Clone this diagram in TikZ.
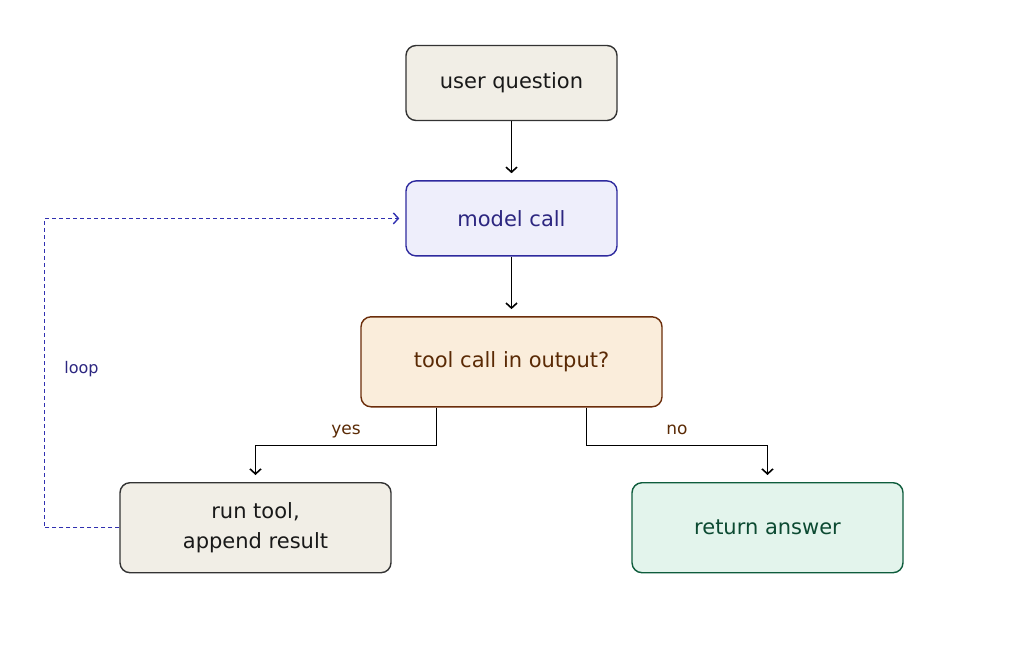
\documentclass[tikz,border=0pt]{standalone}
\usepackage{fontspec}
\setmainfont{DejaVu Sans}
\usetikzlibrary{arrows.meta, positioning}

\definecolor{inkgray}{HTML}{333333}
\definecolor{sandfill}{HTML}{F1EEE6}
\definecolor{indigoline}{HTML}{2E2A9E}
\definecolor{indigofill}{HTML}{EEEEFB}
\definecolor{indigotext}{HTML}{2C2680}
\definecolor{brownline}{HTML}{6B2D0A}
\definecolor{brownfill}{HTML}{FAEDDB}
\definecolor{browntext}{HTML}{5A2A05}
\definecolor{greenline}{HTML}{0E5C3C}
\definecolor{greenfill}{HTML}{E3F4EC}
\definecolor{greentext}{HTML}{0C4A32}
\definecolor{loopblue}{HTML}{3030B0}

\begin{document}
\begin{tikzpicture}[node distance=59.5pt, >={Straight Barb[length=5pt,width=11pt]},
	box/.style={draw, rounded corners=10pt, align=center, line width=1.4pt, minimum width=211pt, minimum height=75pt, font=\fontsize{21}{30}\selectfont},
	flow/.style={->, draw=black, line width=1.6pt, shorten >=7pt},
	branch/.style={pos=0.25, anchor=base, yshift=11pt, text=browntext, font=\fontsize{17}{20}\selectfont}]
	\useasboundingbox (0,0) rectangle (1024pt,-648pt);

	\node[box, fill=sandfill, draw=inkgray, text=black!90] (user) at (511.5pt,-83pt) {user question};
	\node[box, fill=indigofill, draw=indigoline, text=indigotext] (model) [below=59pt of user] {model call};
	\node[box, fill=brownfill, draw=brownline, text=browntext, minimum width=301pt, minimum height=90pt] (tool) [below=of model] {tool call in output?};
	\node[box, fill=sandfill, draw=inkgray, text=black!90, minimum width=271pt, minimum height=90pt] (run) [below=74.5pt of tool, xshift=-256pt] {run tool,\\append result};
	\node[box, fill=greenfill, draw=greenline, text=greentext, minimum width=271pt, minimum height=90pt] (answer) [below=74.5pt of tool, xshift=256pt] {return answer};

	\draw[flow] (user) -- (model);
	\draw[flow] (model) -- (tool);
	\draw[flow] ([xshift=-75pt]tool.south) -- ++(0,-38pt) -| node[branch] {yes} (run);
	\draw[flow] ([xshift=75pt]tool.south) -- ++(0,-38pt) -| node[branch] {no} (answer);
	\draw[->, draw=loopblue, line width=1.4pt, dash pattern=on 4pt off 3pt, shorten >=6pt] (run.west) -- ++(-75pt,0) |- node[pos=0.25, right=16pt, yshift=4pt, text=indigotext, font=\fontsize{16}{18}\selectfont] {loop} (model);
\end{tikzpicture}
\end{document}
